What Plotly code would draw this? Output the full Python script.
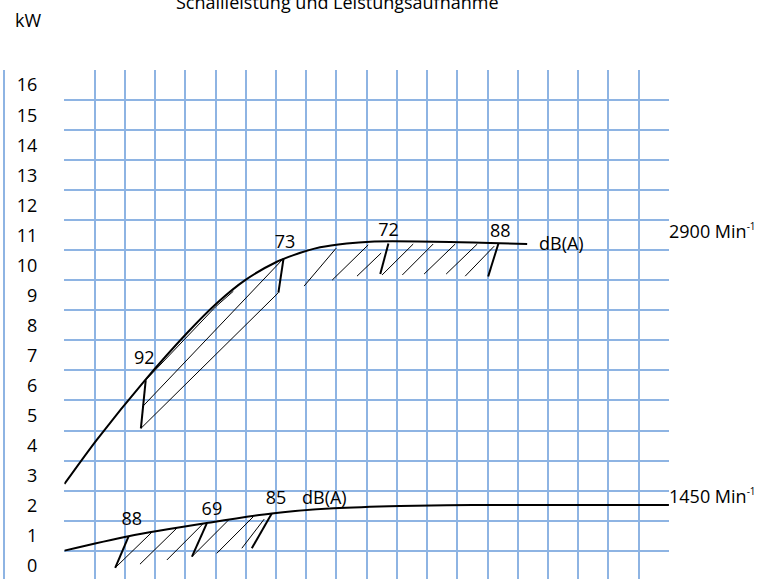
import plotly.graph_objects as go

# ---- data (x: grid columns 0..20, y: kW) ----
curve_2900_x = [0, 1.07, 2.67, 4.05, 5.04, 5.98, 7.03, 7.58, 8.46, 9.34, 10.12, 12.76, 15.31]
curve_2900_y = [2.72, 4.19, 6.18, 7.74, 8.74, 9.51, 10.12, 10.34, 10.60, 10.73, 10.79, 10.78, 10.71]

curve_1450_x = [0, 2.12, 4.71, 6.86, 8.9, 11.1, 13.5, 20]
curve_1450_y = [0.5, 0.98, 1.42, 1.74, 1.91, 1.99, 2.02, 2.02]

# thick measuring-point marks (from curve down)
upper_mark_x = [[2.69, 2.53], [7.25, 7.08], [10.72, 10.45], [14.36, 14.02]]
upper_mark_y = [[6.18, 4.57], [10.23, 9.09], [10.73, 9.71], [10.73, 9.63]]
lower_mark_x = [[2.12, 1.68], [4.71, 4.22], [6.86, 6.20]]
lower_mark_y = [[0.97, -0.07], [1.41, 0.30], [1.74, 0.58]]

# thin hatch / band lines
upper_thin_x = [
    [2.69, 3.4, 4.05, 5.0, 5.59],
    [2.58, 7.25], [2.53, 7.08],
    [7.93, 8.99], [8.86, 10.05], [9.68, 10.48],
    [10.51, 11.54], [11.18, 12.20], [11.90, 12.93], [12.63, 13.66], [13.26, 14.22],
]
upper_thin_y = [
    [6.18, 6.93, 7.62, 8.62, 9.14],
    [5.29, 10.23], [4.57, 9.09],
    [9.31, 10.57], [9.51, 10.68], [9.64, 10.41],
    [9.68, 10.71], [9.68, 10.71], [9.71, 10.71], [9.71, 10.71], [9.64, 10.64],
]
lower_thin_x = [[1.68, 2.89], [2.50, 3.72], [3.39, 4.60], [4.22, 5.43], [5.04, 6.25], [5.87, 6.61]]
lower_thin_y = [[-0.07, 1.11], [0.05, 1.25], [0.19, 1.41], [0.30, 1.52], [0.41, 1.63], [0.58, 1.55]]

# point labels
upper_lbl_text = ["92", "73", "72", "88"]
upper_lbl_x = [2.64, 7.30, 10.72, 14.42]
upper_lbl_y = [6.85, 10.74, 11.14, 11.11]
lower_lbl_text = ["88", "69", "85"]
lower_lbl_x = [2.23, 4.88, 7.0]
lower_lbl_y = [1.52, 1.85, 2.19]

speed_text = ["2900 Min<sup><span style='font-size:10px'>-1</span></sup>",
              "1450 Min<sup><span style='font-size:10px'>-1</span></sup>"]
speed_y = [11.16, 2.32]
dba_x = [15.63, 7.80]
dba_y = [10.76, 2.28]

y_ticks = list(range(0, 17))

TITLE = "Schallleistung und Leistungsaufnahme"
UNIT = "kW"

GRID = "#8EB4E3"
FONT = "Open Sans"
FS = 18

# pixel geometry
W, H = 765, 579
L_PLOT, R_PLOT, T_PLOT = 64.3, 668.7, 70
paper_w = R_PLOT
paper_h = H - T_PLOT


def seg(xs, ys):
    ox, oy = [], []
    for a, b in zip(xs, ys):
        ox += list(a) + [None]
        oy += list(b) + [None]
    return ox, oy


fig = go.Figure()
fig.add_trace(go.Scatter(x=curve_2900_x, y=curve_2900_y, mode="lines",
                         line=dict(color="black", width=2, shape="spline", smoothing=0.8)))
fig.add_trace(go.Scatter(x=curve_1450_x, y=curve_1450_y, mode="lines",
                         line=dict(color="black", width=2, shape="spline", smoothing=0.8)))
for xs, ys, w in [(upper_thin_x, upper_thin_y, 1), (lower_thin_x, lower_thin_y, 1),
                  (upper_mark_x, upper_mark_y, 2), (lower_mark_x, lower_mark_y, 2)]:
    sx, sy = seg(xs, ys)
    fig.add_trace(go.Scatter(x=sx, y=sy, mode="lines", line=dict(color="black", width=w)))

fig.add_trace(go.Scatter(x=upper_lbl_x + lower_lbl_x, y=upper_lbl_y + lower_lbl_y,
                         text=upper_lbl_text + lower_lbl_text, mode="text",
                         textposition="middle center",
                         textfont=dict(family=FONT, size=FS, color="black")))

annotations = []
for t, yv in zip(speed_text, speed_y):
    annotations.append(dict(x=20, y=yv, xref="x", yref="y", text=t, showarrow=False,
                            xanchor="left", yanchor="middle", xshift=-2,
                            font=dict(family=FONT, size=FS, color="black")))
for xv, yv in zip(dba_x, dba_y):
    annotations.append(dict(x=xv, y=yv, xref="x", yref="y", text="dB(A)", showarrow=False,
                            xanchor="left", yanchor="middle",
                            font=dict(family=FONT, size=FS, color="black")))
annotations.append(dict(x=337 / paper_w, y=1 + (T_PLOT - 2) / paper_h, xref="paper", yref="paper",
                        text=TITLE, showarrow=False, xanchor="center", yanchor="middle",
                        font=dict(family=FONT, size=FS, color="black")))
annotations.append(dict(x=28.3 / paper_w, y=1 + (T_PLOT - 20) / paper_h, xref="paper", yref="paper",
                        text=UNIT, showarrow=False, xanchor="center", yanchor="middle",
                        font=dict(family=FONT, size=FS, color="black")))

y_top = 16.5 + 0.005
y_bot = 16.5 - (H - T_PLOT) / 30.04

fig.update_layout(
    width=W, height=H,
    margin=dict(l=0, r=W - R_PLOT, t=T_PLOT, b=0, pad=0),
    paper_bgcolor="white", plot_bgcolor="white",
    showlegend=False,
    font=dict(family=FONT, size=FS, color="black"),
    annotations=annotations,
    xaxis=dict(domain=[L_PLOT / paper_w, 1], range=[-0.003, 20.003], showgrid=True, dtick=1, tick0=0,
               gridcolor=GRID, gridwidth=2, zeroline=False, showticklabels=False, ticks="",
               showline=False, fixedrange=True),
    yaxis=dict(range=[y_bot, y_top], tickmode="array", tickvals=y_ticks,
               ticktext=[str(v) for v in y_ticks], showgrid=False, zeroline=False,
               ticks="", ticklabelstandoff=26, showline=False,
               tickfont=dict(family=FONT, size=FS, color="black"),
               minor=dict(showgrid=True, tick0=0.5, dtick=1, gridcolor=GRID, gridwidth=2),
               fixedrange=True),
    yaxis2=dict(range=[y_bot, y_top], overlaying="y", anchor="free", position=4 / paper_w,
                side="left", showline=True, linecolor=GRID, linewidth=2, showgrid=False,
                zeroline=False, showticklabels=False, ticks=""),
)
fig.add_trace(go.Scatter(x=[None], y=[None], yaxis="y2", showlegend=False))

fig.write_html("out.html", config={"displayModeBar": False},
               post_script="document.body.style.margin='0';document.body.style.overflow='hidden';")
